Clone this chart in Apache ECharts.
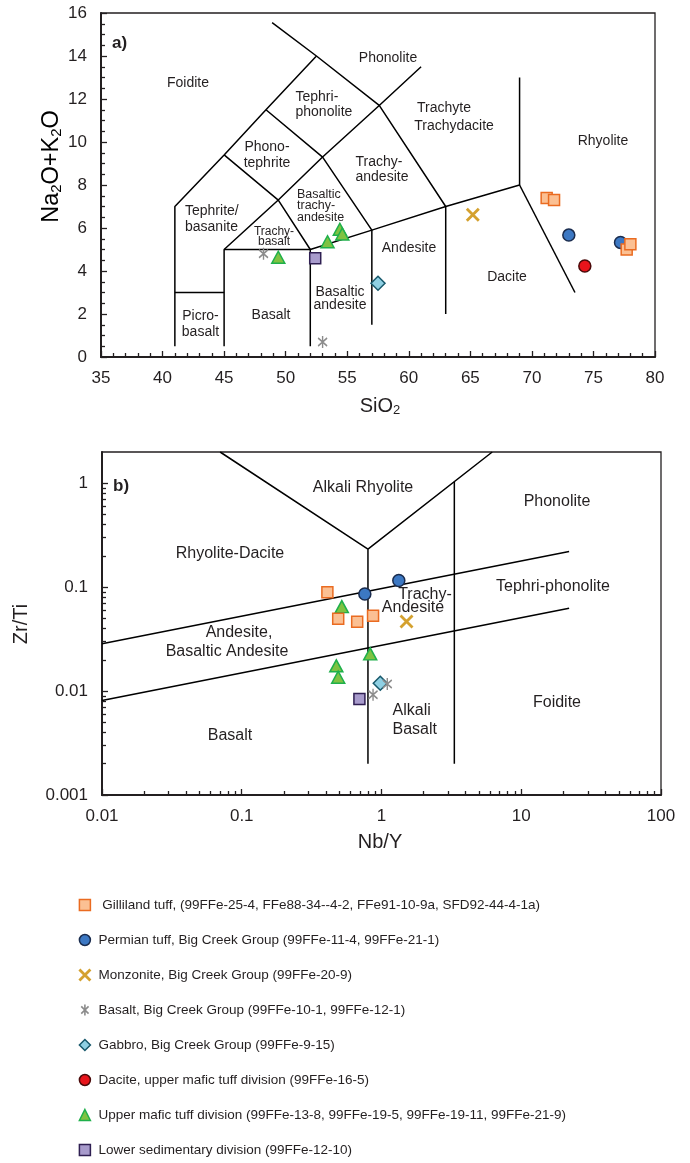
<!DOCTYPE html>
<html>
<head>
<meta charset="utf-8">
<script src="https://cdn.jsdelivr.net/npm/echarts@6/dist/echarts.min.js"></script>
<style>
  html, body { margin: 0; padding: 0; background: #fff; }
  #chart { width: 690px; height: 1163px; }
</style>
</head>
<body>
<div id="chart"></div>
<script>
  // ---- a) TAS diagram: [SiO2, Na2O+K2O] ----
  const tasGilliland = [[71.2, 7.4], [71.8, 7.3], [77.7, 5.0], [78.0, 5.25]];
  const tasPermian = [[73.0, 5.67], [77.2, 5.33]];
  const tasMonzonite = [[65.2, 6.62]];
  const tasBasalt = [[48.2, 4.8], [53.0, 0.7]];
  const tasGabbro = [[57.5, 3.43]];
  const tasDacite = [[74.3, 4.23]];
  const tasUpperMafic = [[49.4, 4.64], [53.4, 5.36], [54.4, 5.94], [54.6, 5.72]];
  const tasLowerSed = [[52.4, 4.59]];

  // field boundaries of the TAS diagram
  const tasBoundaries = [
    [[41, 0.5], [41, 7], [45, 9.4], [48.4, 11.5], [52.5, 14], [48.9, 15.55]],
    [[41, 3], [45, 3]],
    [[45, 0.5], [45, 5], [52, 5], [52, 0.5]],
    [[45, 5], [49.4, 7.3], [53, 9.3], [57.6, 11.7], [61, 13.5]],
    [[45, 9.4], [49.4, 7.3], [52, 5], [57, 5.9], [63, 7], [69, 8], [69, 13]],
    [[48.4, 11.5], [53, 9.3], [57, 5.9], [57, 1.5]],
    [[52.5, 14], [57.6, 11.7], [63, 7], [63, 2]],
    [[69, 8], [73.5, 3]]
  ];

  // ---- b) Zr/Ti vs Nb/Y: [Nb/Y, Zr/Ti] ----
  const wfGilliland = [[0.41, 0.0895], [0.49, 0.0496], [0.67, 0.0464], [0.87, 0.053]];
  const wfPermian = [[0.76, 0.086], [1.33, 0.116]];
  const wfMonzonite = [[1.51, 0.0467]];
  const wfBasalt = [[1.10, 0.0117], [0.87, 0.0092]];
  const wfGabbro = [[0.98, 0.0119]];
  const wfUpperMafic = [[0.52, 0.065], [0.83, 0.0228], [0.475, 0.0175], [0.49, 0.0136]];
  const wfLowerSed = [[0.695, 0.0084]];

  const wfBoundaries = [
    [[0.07, 2], [0.8, 0.232], [6.2, 2]],
    [[0.8, 0.232], [0.8, 0.002]],
    [[3.32, 1.03], [3.32, 0.002]],
    [[0.01, 0.0285], [22, 0.22]],
    [[0.01, 0.00812], [22, 0.0628]]
  ];

  const tasXTicks = [35, 80];
  const tasYTicks = [0, 16];
  const wfXDecades = [0.01, 0.1, 1, 10, 100];
  const wfYDecades = [0.001, 0.01, 0.1, 1];

  const FONT = '"Liberation Sans", Arial, sans-serif';
  const INK = '#231f20';

  function logMinor(decades, top) {
    const out = [];
    decades.forEach(d => {
      for (let k = 2; k <= 9; k++) {
        const v = +(k * d).toPrecision(3);
        if (v < top) out.push(v);
      }
    });
    return out;
  }

  const groups = [
    { name: 'Upper mafic tuff division (99FFe-13-8, 99FFe-19-5, 99FFe-19-11, 99FFe-21-9)',
      a: tasUpperMafic, b: wfUpperMafic, symbol: 'triangle', size: [13, 12], fill: '#7fc242', stroke: '#1fb04b', bw: 1.5 },
    { name: 'Permian tuff, Big Creek Group (99FFe-11-4, 99FFe-21-1)',
      a: tasPermian, b: wfPermian, symbol: 'circle', size: 12, fill: '#3c78c3', stroke: '#1a2c4e', bw: 1.5 },
    { name: ' Gilliland tuff, (99FFe-25-4, FFe88-34--4-2, FFe91-10-9a, SFD92-44-4-1a)',
      a: tasGilliland, b: wfGilliland, symbol: 'rect', size: 11, fill: '#fbc093', stroke: '#ea6b21', bw: 1.5 },
    { name: 'Monzonite, Big Creek Group (99FFe-20-9)',
      a: tasMonzonite, b: wfMonzonite, symbol: 'path://M0,0L10,10M10,0L0,10', size: 12, fill: 'rgba(0,0,0,0)', stroke: '#d4a12f', bw: 2.8 },
    { name: 'Gabbro, Big Creek Group (99FFe-9-15)',
      a: tasGabbro, b: wfGabbro, symbol: 'diamond', size: 14, fill: '#8fd0e3', stroke: '#17586b', bw: 1.5 },
    { name: 'Basalt, Big Creek Group (99FFe-10-1, 99FFe-12-1)',
      a: tasBasalt, b: wfBasalt, symbol: 'path://M0,2L8,10M8,2L0,10M4,0L4,12', size: [9, 12], fill: 'rgba(0,0,0,0)', stroke: '#8c8c8c', bw: 1.6 },
    { name: 'Dacite, upper mafic tuff division (99FFe-16-5)',
      a: tasDacite, b: [], symbol: 'circle', size: 12, fill: '#e8141b', stroke: '#4a0a0a', bw: 1.5 },
    { name: 'Lower sedimentary division (99FFe-12-10)',
      a: tasLowerSed, b: wfLowerSed, symbol: 'rect', size: 11, fill: '#a89bcc', stroke: '#2f1f52', bw: 1.5 }
  ];

  const legendOrder = [2, 1, 3, 5, 4, 6, 0, 7].map(i => ({
    name: groups[i].name,
    itemStyle: { borderWidth: groups[i].bw }
  }));

  const series = [];
  tasBoundaries.forEach(line => series.push({
    type: 'line', xAxisIndex: 0, yAxisIndex: 0, data: line, symbol: 'none', silent: true, z: 2,
    lineStyle: { color: '#000', width: 1.5 }
  }));
  wfBoundaries.forEach(line => series.push({
    type: 'line', xAxisIndex: 1, yAxisIndex: 1, data: line, symbol: 'none', silent: true, z: 2,
    lineStyle: { color: '#000', width: 1.5 }
  }));
  groups.forEach(g => {
    [[g.a, 0], [g.b, 1]].forEach(([data, idx]) => series.push({
      name: g.name, type: 'scatter', xAxisIndex: idx, yAxisIndex: idx, data: data, z: 3,
      symbol: g.symbol, symbolSize: g.size,
      itemStyle: { color: g.fill, borderColor: g.stroke, borderWidth: g.bw, opacity: 1 }
    }));
  });

  const axisLine = { show: true, onZero: false, lineStyle: { color: INK, width: 2 } };
  const tickLine = { color: INK, width: 1.3 };
  const label = { color: INK, fontSize: 17, fontFamily: FONT };

  function txt(x, y, text, size, extra) {
    return {
      type: 'text', x: x, y: y, z: 10, silent: true,
      style: Object.assign({
        text: text, fill: INK, fontSize: size, fontFamily: FONT,
        align: 'center', verticalAlign: 'middle'
      }, extra || {})
    };
  }

  const subRich = {
    n: { fontSize: 20, fontFamily: FONT, color: INK },
    s: { fontSize: 13, fontFamily: FONT, color: INK, padding: [9, 0, 0, 0] }
  };
  const subRichBig = {
    n: { fontSize: 23.5, fontFamily: FONT, color: INK },
    s: { fontSize: 15, fontFamily: FONT, color: INK, padding: [10, 0, 0, 0] }
  };

  const graphics = [
    // panel a
    txt(112, 43, 'a)', 17, { align: 'left', fontWeight: 'bold' }),
    txt(188, 83, 'Foidite', 14),
    txt(295.5, 105, 'Tephri-\nphonolite', 14, { align: 'left', lineHeight: 15 }),
    txt(388, 58, 'Phonolite', 14),
    txt(444, 108, 'Trachyte', 14),
    txt(454, 126, 'Trachydacite', 14),
    txt(603, 141, 'Rhyolite', 14),
    txt(267, 155, 'Phono-\ntephrite', 14, { lineHeight: 16 }),
    txt(355.5, 169.5, 'Trachy-\nandesite', 14, { align: 'left', lineHeight: 14.5 }),
    txt(297, 205.8, 'Basaltic\ntrachy-\nandesite', 12.5, { align: 'left', lineHeight: 11.7 }),
    txt(185, 219, 'Tephrite/\nbasanite', 14, { align: 'left', lineHeight: 16.6 }),
    txt(274, 236.5, 'Trachy-\nbasalt', 12, { lineHeight: 10 }),
    txt(200.5, 324, 'Picro-\nbasalt', 14, { lineHeight: 15.7 }),
    txt(271, 315, 'Basalt', 14),
    txt(340, 299, 'Basaltic\nandesite', 14, { lineHeight: 13 }),
    txt(409, 248, 'Andesite', 14),
    txt(507, 277, 'Dacite', 14),
    // panel b
    txt(113, 486, 'b)', 17, { align: 'left', fontWeight: 'bold' }),
    txt(363, 488, 'Alkali Rhyolite', 16),
    txt(557, 502, 'Phonolite', 16),
    txt(230, 554, 'Rhyolite-Dacite', 16),
    txt(553, 587, 'Tephri-phonolite', 16),
    txt(425, 595, 'Trachy-', 16),
    txt(413, 608, 'Andesite', 16),
    txt(239, 633, 'Andesite,', 16),
    txt(227, 652, 'Basaltic Andesite', 16),
    txt(230, 736, 'Basalt', 16),
    txt(392.5, 720.5, 'Alkali\nBasalt', 16, { align: 'left', lineHeight: 19 }),
    txt(557, 703, 'Foidite', 16),
    // axis names
    txt(380, 406, '{n|SiO}{s|2}', 20, { rich: subRich }),
    { type: 'text', x: 52, y: 166.5, rotation: Math.PI / 2, z: 10, silent: true,
      style: { text: '{n|Na}{s|2}{n|O+K}{s|2}{n|O}', rich: subRichBig, align: 'center', verticalAlign: 'middle' } },
    txt(380, 842, 'Nb/Y', 20),
    { type: 'text', x: 21, y: 624, rotation: Math.PI / 2, z: 10, silent: true,
      style: { text: 'Zr/Ti', fill: INK, fontSize: 20, fontFamily: FONT, align: 'center', verticalAlign: 'middle' } }
  ];

  const chart = echarts.init(document.getElementById('chart'));
  chart.setOption({
    animation: false,
    backgroundColor: '#fff',
    grid: [
      { left: 101, top: 13, width: 554, height: 344, show: true, borderColor: INK, borderWidth: 1.3, backgroundColor: 'transparent' },
      { left: 102, top: 452, width: 559, height: 343, show: true, borderColor: INK, borderWidth: 1.3, backgroundColor: 'transparent' }
    ],
    xAxis: [
      { gridIndex: 0, type: 'value', position: 'bottom', min: tasXTicks[0], max: tasXTicks[1], interval: 5,
        axisLine: axisLine, splitLine: { show: false },
        axisTick: { show: true, inside: true, length: 6, lineStyle: tickLine },
        minorTick: { show: true, splitNumber: 5, length: 4, lineStyle: tickLine },
        axisLabel: Object.assign({ margin: 13 }, label) },
      { gridIndex: 1, type: 'log', logBase: 10, position: 'bottom', min: wfXDecades[0], max: wfXDecades[wfXDecades.length - 1],
        axisLine: axisLine, splitLine: { show: false },
        axisTick: { show: true, inside: true, length: 6, lineStyle: tickLine, customValues: wfXDecades },
        axisLabel: Object.assign({ margin: 13, customValues: wfXDecades, formatter: v => String(v) }, label) },
      { gridIndex: 1, type: 'log', logBase: 10, position: 'bottom', min: wfXDecades[0], max: wfXDecades[wfXDecades.length - 1],
        axisLine: { show: false }, splitLine: { show: false }, axisLabel: { show: false },
        axisTick: { show: true, inside: true, length: 4, lineStyle: tickLine, customValues: logMinor(wfXDecades, 100) } }
    ],
    yAxis: [
      { gridIndex: 0, type: 'value', position: 'left', min: tasYTicks[0], max: tasYTicks[1], interval: 2,
        axisLine: axisLine, splitLine: { show: false },
        axisTick: { show: true, inside: true, length: 6, lineStyle: tickLine },
        minorTick: { show: true, splitNumber: 4, length: 4, lineStyle: tickLine },
        axisLabel: Object.assign({ margin: 14 }, label) },
      { gridIndex: 1, type: 'log', logBase: 10, position: 'left', min: wfYDecades[0], max: 2,
        axisLine: axisLine, splitLine: { show: false },
        axisTick: { show: true, inside: true, length: 6, lineStyle: tickLine, customValues: wfYDecades },
        axisLabel: Object.assign({ margin: 14, customValues: wfYDecades, formatter: v => String(v) }, label) },
      { gridIndex: 1, type: 'log', logBase: 10, position: 'left', min: wfYDecades[0], max: 2,
        axisLine: { show: false }, splitLine: { show: false }, axisLabel: { show: false },
        axisTick: { show: true, inside: true, length: 4, lineStyle: tickLine, customValues: logMinor(wfYDecades, 2) } }
    ],
    legend: {
      orient: 'vertical', left: 78, top: 898, height: 262, padding: 0,
      itemWidth: 11, itemHeight: 11, itemGap: 21,
      selectedMode: false, data: legendOrder,
      textStyle: { color: INK, fontSize: 13.5, fontFamily: FONT, lineHeight: 14, padding: [0, 0, 0, 3] }
    },
    graphic: graphics,
    series: series
  });
</script>
</body>
</html>
